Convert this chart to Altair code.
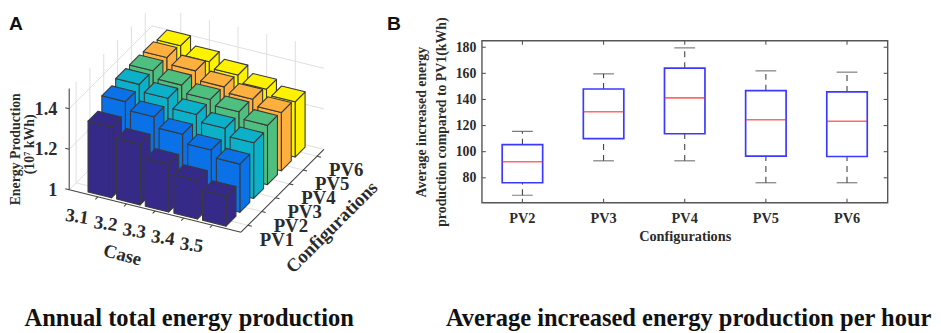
import altair as alt
import pandas as pd

SERIF = "Liberation Serif"
SANS = "Liberation Sans"
INK = "#2b2b2b"

# ---------- values ----------
cases = ["3.1", "3.2", "3.3", "3.4", "3.5"]
configs = ["PV1", "PV2", "PV3", "PV4", "PV5", "PV6"]
colors = ["#352a87", "#0a72e6", "#0cb0c8", "#4fbf80", "#fdb03e", "#fff200"]
energy_pv1 = [1.35, 1.30, 1.235, 1.19, 1.146]
energy_pv2 = [1.407, 1.367, 1.316, 1.273, 1.238]
energy_pv3 = [1.424, 1.39, 1.345, 1.312, 1.275]
energy_pv4 = [1.423, 1.387, 1.351, 1.325, 1.293]
energy_pv5 = [1.42, 1.389, 1.345, 1.319, 1.288]
energy_pv6 = [1.41, 1.366, 1.335, 1.30, 1.273]
energy = [energy_pv1, energy_pv2, energy_pv3, energy_pv4, energy_pv5, energy_pv6]
z_ticks = [1.0, 1.2, 1.4]
z_labels = ["1", "1.2", "1.4"]

box_cfg = ["PV2", "PV3", "PV4", "PV5", "PV6"]
box_low = [66.6, 93, 93, 76.2, 76.2]
box_q1 = [76.2, 110, 113.7, 96.6, 96.3]
box_med = [92.3, 130.6, 141.2, 124.4, 123.3]
box_q3 = [105.4, 148, 164, 146.7, 145.8]
box_high = [115.5, 159.6, 179.5, 161.9, 160.9]
y_ticks = [80, 100, 120, 140, 160, 180]

# ---------- oblique projection of the 3D axes ----------
OX, OY = 69 - 8, 189 - 38
UX, UY = 29.0, 7.17
VX, VY = 14.0, -14.0
WZ = 205.0


def P(c, p, z=1.0):
    return [OX + c * UX + p * VX, OY + c * UY + p * VY - (z - 1.0) * WZ]


def poly(pts, fill):
    return {"type": "Feature", "properties": {"fill": fill},
            "geometry": {"type": "Polygon", "coordinates": [pts + [pts[0]]]}}


def line(a, b):
    return {"type": "Feature", "properties": {},
            "geometry": {"type": "LineString", "coordinates": [a, b]}}


ZTOP = 1.5
NC, NP = 6, 6
grid = []
for k in range(5):
    grid.append(line(P(k + 1, NP), P(k + 1, NP, ZTOP)))
    grid.append(line(P(k + 1, 0), P(k + 1, NP)))
for j in range(6):
    grid.append(line(P(0, j + 0.5), P(0, j + 0.5, ZTOP)))
    grid.append(line(P(0, j + 0.5), P(NC, j + 0.5)))
for z in z_ticks[1:]:
    grid.append(line(P(0, 0, z), P(0, NP, z)))
    grid.append(line(P(0, NP, z), P(NC, NP, z)))
grid.append(line(P(0, 0), P(0, NP)))
grid.append(line(P(0, NP), P(NC, NP)))

axes = [line(P(0, 0), P(NC, 0)), line(P(NC, 0), P(NC, NP)), line(P(0, 0), P(0, 0, ZTOP))]
for k in range(5):
    a = P(k + 1, 0)
    axes.append(line(a, [a[0] - 2.5, a[1] + 2.5]))
for j in range(6):
    a = P(NC, j + 0.5)
    axes.append(line(a, [a[0] + 4, a[1] + 1]))
for z in z_ticks:
    a = P(0, 0, z)
    axes.append(line(a, [a[0] - 4, a[1] - 1]))

HC, HP = 0.41, 0.36
bars = []
for j in reversed(range(6)):
    for k in range(5):
        c, p, z = k + 1, j + 0.5, energy[j][k]
        col = colors[j]
        bars.append(poly([P(c + HC, p - HP), P(c + HC, p + HP), P(c + HC, p + HP, z), P(c + HC, p - HP, z)], col))
        bars.append(poly([P(c - HC, p - HP), P(c + HC, p - HP), P(c + HC, p - HP, z), P(c - HC, p - HP, z)], col))
        bars.append(poly([P(c - HC, p - HP, z), P(c + HC, p - HP, z), P(c + HC, p + HP, z), P(c - HC, p + HP, z)], col))

proj = alt.Projection(type="identity", scale=1, translate=[0, 0])
W1, H = 479, 164


def geo_lines(features, color, sw):
    return alt.Chart(alt.Data(values=features)).mark_geoshape(
        filled=False, stroke=color, strokeWidth=sw, clip=False).project(**proj.to_dict())


def text_layer(rows, size, font=SERIF, align="center", angle=0, color=INK, baseline="middle"):
    df = pd.DataFrame(rows, columns=["x", "y", "t"])
    return alt.Chart(df).mark_text(
        font=font, fontWeight="bold", fontSize=size, align=align, angle=angle,
        baseline=baseline, color=color, clip=False
    ).encode(longitude="x:Q", latitude="y:Q", text="t:N").project(**proj.to_dict())


bar_layer = alt.Chart(alt.Data(values=bars)).mark_geoshape(
    stroke="#3a3a3a", strokeWidth=1.1, strokeJoin="round", clip=False
).encode(fill=alt.Fill("properties.fill:N", scale=None)).project(**proj.to_dict())

case_rows = [[P(k + 1, 0)[0] - 21, P(k + 1, 0)[1] + 20, cases[k]] for k in range(5)]
cfg_rows = [[P(NC, j + 0.5)[0] + 29.5, P(NC, j + 0.5)[1] + 14.5, configs[j]] for j in range(6)]
z_rows = [[57 - 8, P(0, 0, z)[1] + 0, lab] for z, lab in zip(z_ticks, z_labels)]

left = alt.layer(
    geo_lines(grid, "#dedede", 1),
    geo_lines(axes, "#444444", 1.1),
    bar_layer,
    text_layer(case_rows, 19, angle=8),
    text_layer(cfg_rows, 19),
    text_layer(z_rows, 18.5, align="right"),
    text_layer([[123 - 8, 255 - 38, "Case"]], 19, angle=15),
    text_layer([[335 - 8, 227 - 38, "Configurations"]], 19, angle=315),
    text_layer([[7, 148 - 38, "Energy Production"]], 14, angle=270),
    text_layer([[21, 143 - 38, "(10⁷ kWh)"]], 14, angle=270),
    text_layer([[0, -11, "A"]], 19.5, font=SANS, align="left", color="#111111", baseline="alphabetic"),
    text_layer([[182.5, 327 - 38, "Annual total energy production"]], 24.8, color="#111111", baseline="alphabetic"),
).properties(width=W1, height=H)

# ---------- box plot ----------
W2 = 411
boxes = pd.DataFrame({"cfg": box_cfg, "low": box_low, "q1": box_q1, "med": box_med,
                      "q3": box_q3, "high": box_high})
ticks_y = pd.DataFrame({"v": y_ticks})
ticks_x = pd.DataFrame({"cfg": box_cfg})

x_axis = alt.Axis(title="Configurations", titleFont=SERIF, titleFontSize=14.5, titleFontWeight="bold",
                  titleColor=INK, titlePadding=5, labelFont=SERIF, labelFontSize=14.5, labelFontWeight="bold",
                  labelColor=INK, labelAngle=0, labelPadding=9, tickSize=0, domain=False, grid=False)
y_axis = alt.Axis(title=["Average increased energy", "production compared to PV1(kWh)"], titleFont=SERIF,
                  titleFontSize=14, titleFontWeight="bold", titleColor=INK, titleLineHeight=20, titlePadding=7,
                  labelFont=SERIF, labelFontSize=14, labelFontWeight="bold", labelColor=INK, labelPadding=6,
                  values=y_ticks, tickSize=0, domain=False, grid=False)
X = alt.X("cfg:N", sort=box_cfg, scale=alt.Scale(paddingInner=0, paddingOuter=0), axis=x_axis)


def Y(f):
    return alt.Y(f + ":Q", scale=alt.Scale(domain=[61, 185], nice=False, zero=False), axis=y_axis)


base = alt.Chart(boxes)
FRAME = "#555555"
right = alt.layer(
    base.mark_rule(color="#444444", strokeWidth=1.1, strokeDash=[6, 5]).encode(x=X, y=Y("q3"), y2="high:Q"),
    base.mark_rule(color="#444444", strokeWidth=1.1, strokeDash=[6, 5]).encode(x=X, y=Y("low"), y2="q1:Q"),
    base.mark_tick(color="#444444", size=21, thickness=1.2, orient="horizontal").encode(x=X, y=Y("high")),
    base.mark_tick(color="#444444", size=21, thickness=1.2, orient="horizontal").encode(x=X, y=Y("low")),
    base.mark_bar(size=41, fill="white", stroke="#3a3aff", strokeWidth=1.7).encode(x=X, y=Y("q1"), y2="q3:Q"),
    base.mark_tick(color="#ff2a2a", size=41, thickness=1.6, orient="horizontal").encode(x=X, y=Y("med")),
    alt.Chart(ticks_y).mark_rule(color=FRAME, strokeWidth=1.1).encode(x=alt.value(0), x2=alt.value(4), y=Y("v")),
    alt.Chart(ticks_y).mark_rule(color=FRAME, strokeWidth=1.1).encode(x=alt.value(W2 - 4), x2=alt.value(W2), y=Y("v")),
    alt.Chart(ticks_x).mark_rule(color=FRAME, strokeWidth=1.1).encode(x=X, y=alt.value(H - 4), y2=alt.value(H)),
    alt.Chart(ticks_x).mark_rule(color=FRAME, strokeWidth=1.1).encode(x=X, y=alt.value(0), y2=alt.value(4)),
    alt.Chart(pd.DataFrame({"t": ["B"]})).mark_text(
        font=SANS, fontWeight="bold", fontSize=19.5, align="left", baseline="alphabetic", color="#111111"
    ).encode(x=alt.value(-96), y=alt.value(-11), text="t:N"),
    alt.Chart(pd.DataFrame({"t": ["Average increased energy production per hour"]})).mark_text(
        font=SERIF, fontWeight="bold", fontSize=24.8, align="center", baseline="alphabetic", color="#111111"
    ).encode(x=alt.value(209.5), y=alt.value(289), text="t:N"),
).properties(width=W2, height=H, view=alt.ViewBackground(stroke=FRAME, strokeWidth=1.4))

chart = alt.hconcat(left, right, spacing=0, bounds="flush", padding=0).configure_view(stroke=None)
chart.save("out.html", embed_options={"renderer": "svg", "actions": False})
